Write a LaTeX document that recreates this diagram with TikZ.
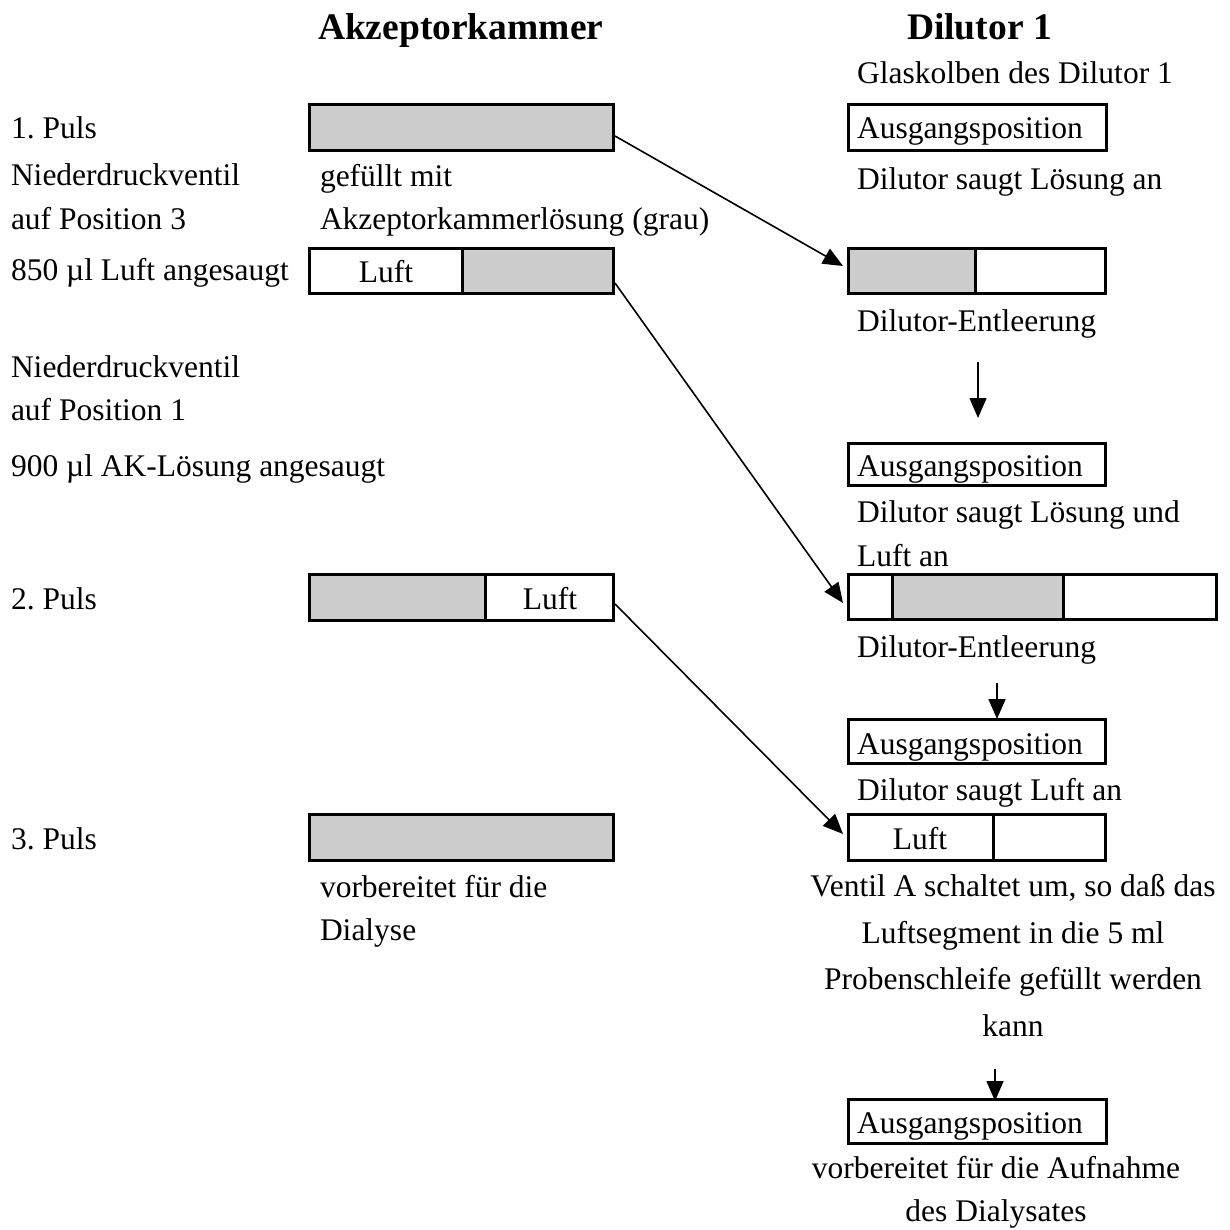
\documentclass[tikz,border=0pt]{standalone}
\usepackage{fontspec}
\setmainfont{Liberation Serif}
\usetikzlibrary{arrows.meta}
\definecolor{fillgray}{RGB}{204,204,204}
\newcommand\segbox[6]{\node[seg, fill=#6, minimum width={#4-#2}, minimum height={#5-#3}] (#1) at ({(#2+#4)/2},{(#3+#5)/2}) {};}
\frenchspacing
\begin{document}
\begin{tikzpicture}[x=1pt,y=-1pt,
  font=\fontsize{31.5}{38}\selectfont\frenchspacing,
  txt/.style={inner sep=0pt, outer sep=0pt, anchor=base west},
  ctxt/.style={inner sep=0pt, outer sep=0pt, anchor=base},
  head/.style={txt, font=\fontsize{37.5}{44}\selectfont\bfseries},
  seg/.style={draw=black, line width=3pt, inner sep=0pt, outer sep=0pt, anchor=center},
  arr/.style={line width=1.6pt, -{Triangle[length=20pt,width=17pt]}}]
\fill[white] (0,0) rectangle (1229,1230);
\useasboundingbox (0,0) rectangle (1229,1230);

% headings
\node[head] (hA) at (318,40) {Akzeptorkammer};
\node[head] (hD) at (907,40) {Dilutor 1};
\node[txt] (glas) at (857,84) {Glaskolben des Dilutor 1};

% left column boxes
\segbox{L1}{309.5}{104.5}{613.5}{150.5}{fillgray}
\segbox{L2a}{309.5}{248.5}{462}{293.5}{white}
\segbox{L2b}{462}{248.5}{613.5}{293.5}{fillgray}
\segbox{L3a}{309.5}{574.5}{485}{620.5}{fillgray}
\segbox{L3b}{485}{574.5}{613.5}{620.5}{white}
\segbox{L4}{309.5}{814.5}{613.5}{860.5}{fillgray}

% right column boxes
\segbox{R1}{848.5}{104.5}{1106.5}{150.5}{white}
\segbox{R2a}{848.5}{248.5}{975}{293.5}{fillgray}
\segbox{R2b}{975}{248.5}{1105.5}{293.5}{white}
\segbox{R3}{848.5}{443.5}{1105.5}{485.5}{white}
\segbox{R4a}{848.5}{574.5}{892}{619.5}{white}
\segbox{R4b}{892}{574.5}{1063}{619.5}{fillgray}
\segbox{R4c}{1063}{574.5}{1216.5}{619.5}{white}
\segbox{R5}{848.5}{719.5}{1105.5}{763.5}{white}
\segbox{R6a}{848.5}{814.5}{993}{860.5}{white}
\segbox{R6b}{993}{814.5}{1105.5}{860.5}{white}
\segbox{R7}{848.5}{1099.5}{1106.5}{1143.5}{white}

% left labels
\node[txt] (p1) at (11,139) {1. Puls};
\node[txt] (nd3) at (11,186) {Niederdruckventil};
\node[txt] (pos3) at (11,230) {auf Position 3};
\node[txt] (luft850) at (11,281) {850 µl Luft angesaugt};
\node[txt] (nd1) at (11,377) {Niederdruckventil};
\node[txt] (pos1) at (11,420) {auf Position 1};
\node[txt] (ak900) at (11,476) {900 µl AK-Lösung angesaugt};
\node[txt] (p2) at (11,609) {2. Puls};
\node[txt] (p3) at (11,849) {3. Puls};

% middle labels
\node[txt] (gef) at (320,187) {gefüllt mit};
\node[txt] (akl) at (320,230) {Akzeptorkammerlösung (grau)};
\node[ctxt] (lL2) at (386,283) {Luft};
\node[ctxt] (lL3) at (550,609) {Luft};
\node[txt] (vor1) at (320,897) {vorbereitet für die};
\node[txt] (vor2) at (320,940) {Dialyse};

% right labels
\node[txt] (aus1) at (857,139) {Ausgangsposition};
\node[txt] (dsl) at (857,190) {Dilutor saugt Lösung an};
\node[txt] (de1) at (857,331) {Dilutor-Entleerung};
\node[txt] (aus2) at (857,476) {Ausgangsposition};
\node[txt] (dslu1) at (857,522) {Dilutor saugt Lösung und};
\node[txt] (dslu2) at (857,566) {Luft an};
\node[txt] (de2) at (857,657) {Dilutor-Entleerung};
\node[txt] (aus3) at (857,754) {Ausgangsposition};
\node[txt] (dsla) at (857,800) {Dilutor saugt Luft an};
\node[ctxt] (lR6) at (920,849) {Luft};
\node[ctxt] (v1) at (1013,896) {Ventil A schaltet um, so daß das};
\node[ctxt] (v2) at (1013,943) {Luftsegment in die 5 ml};
\node[ctxt] (v3) at (1013,989) {Probenschleife gefüllt werden};
\node[ctxt] (v4) at (1013,1036) {kann};
\node[txt] (aus4) at (857,1133) {Ausgangsposition};
\node[ctxt] (auf1) at (996,1178) {vorbereitet für die Aufnahme};
\node[ctxt] (auf2) at (996,1221) {des Dialysates};

% arrow end points
\coordinate (a1s) at (615,136);
\coordinate (a1e) at (843,266);
\coordinate (a2s) at (615,283);
\coordinate (a2e) at (843,603);
\coordinate (a3s) at (615,604);
\coordinate (a3e) at (843,834);
\coordinate (v1s) at (978,362);
\coordinate (v1e) at (978,418);
\coordinate (v2s) at (997,683);
\coordinate (v2e) at (997,719);
\coordinate (v3s) at (995,1069);
\coordinate (v3e) at (995,1101);

\draw[arr] (a1s) -- (a1e);
\draw[arr] (a2s) -- (a2e);
\draw[arr] (a3s) -- (a3e);
\draw[arr] (v1s) -- (v1e);
\draw[arr] (v2s) -- (v2e);
\draw[arr] (v3s) -- (v3e);
\end{tikzpicture}
\end{document}
